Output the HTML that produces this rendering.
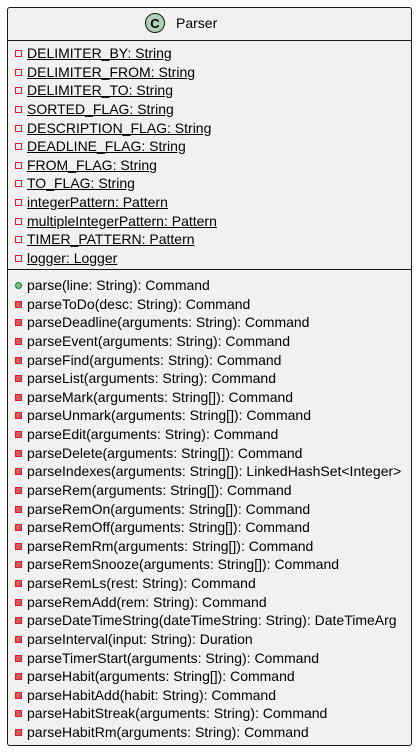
<!DOCTYPE html>
<html><head><style>
body{margin:0;width:420px;height:756px;background:#fff;font-family:"Liberation Sans",sans-serif;position:relative;overflow:hidden}
.box{position:absolute;left:7px;top:7px;width:403px;height:737px;background:#F1F1F1;border:1px solid #181818;border-radius:3px}
.sep{position:absolute;left:7px;width:405px;height:1px;background:#181818}
.l{position:absolute;left:27px;font-size:14px;color:#000;line-height:16px;white-space:nowrap}
.u{text-decoration:underline}
.i{position:absolute;left:15px;width:5px;height:5px;border:1px solid #C82930}
.f{background:#E0525A;border-color:#C82930}
.g{border-radius:50%;background:#84BE84;border-color:#038048}
</style></head><body>
<div class="box"></div>
<div style="position:absolute;left:145px;top:13px;width:20px;height:20px;border-radius:50%;background:#ADD1B2;border:1px solid #181818;box-sizing:border-box;text-align:center;font-weight:bold;font-size:13px;line-height:19px">C</div>
<div style="position:absolute;left:176px;top:15px;font-size:14px">Parser</div>
<div class="sep" style="top:40px"></div>
<div class="sep" style="top:269px"></div>
<div id="c"></div>
<script>
var fs=["DELIMITER_BY: String","DELIMITER_FROM: String","DELIMITER_TO: String","SORTED_FLAG: String","DESCRIPTION_FLAG: String","DEADLINE_FLAG: String","FROM_FLAG: String","TO_FLAG: String","integerPattern: Pattern","multipleIntegerPattern: Pattern","TIMER_PATTERN: Pattern","logger: Logger"];
var ms=["parse(line: String): Command","parseToDo(desc: String): Command","parseDeadline(arguments: String): Command","parseEvent(arguments: String): Command","parseFind(arguments: String): Command","parseList(arguments: String): Command","parseMark(arguments: String[]): Command","parseUnmark(arguments: String[]): Command","parseEdit(arguments: String): Command","parseDelete(arguments: String[]): Command","parseIndexes(arguments: String[]): LinkedHashSet<Integer>","parseRem(arguments: String[]): Command","parseRemOn(arguments: String[]): Command","parseRemOff(arguments: String[]): Command","parseRemRm(arguments: String[]): Command","parseRemSnooze(arguments: String[]): Command","parseRemLs(rest: String): Command","parseRemAdd(rem: String): Command","parseDateTimeString(dateTimeString: String): DateTimeArg","parseInterval(input: String): Duration","parseTimerStart(arguments: String): Command","parseHabit(arguments: String[]): Command","parseHabitAdd(habit: String): Command","parseHabitStreak(arguments: String): Command","parseHabitRm(arguments: String): Command"];
var h="";function e(s){return s.replace(/</g,"&lt;").replace(/>/g,"&gt;")}
fs.forEach(function(s,k){var y=Math.round(53+k*18.64);h+='<div class="i" style="top:'+(y-3)+'px"></div><div class="l u" style="top:'+(y-8)+'px">'+e(s)+'</div>';});
ms.forEach(function(s,k){var y=Math.round(285+k*18.625);h+='<div class="i '+(k==0?'g':'f')+'" style="top:'+(y-3)+'px"></div><div class="l" style="top:'+(y-8)+'px">'+e(s)+'</div>';});
document.getElementById("c").innerHTML=h;
</script>
</body></html>
